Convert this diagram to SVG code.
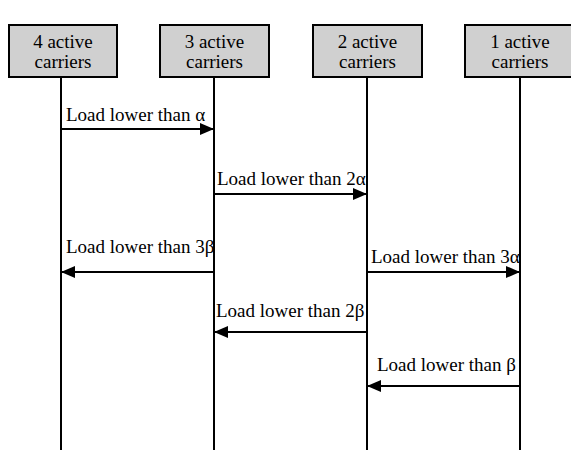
<svg xmlns="http://www.w3.org/2000/svg" width="571" height="450" viewBox="0 0 571 450">
<style>
.box{fill:#d0d0d0;stroke:#000;stroke-width:2}
.life{stroke:#000;stroke-width:2}
.msg{stroke:#000;stroke-width:2;fill:none;marker-end:url(#ah)}
text{font-family:"Liberation Serif","Times New Roman",serif;font-size:19px;fill:#000}
.c{text-anchor:middle}
</style>
<defs>
<marker id="ah" markerUnits="userSpaceOnUse" markerWidth="16" markerHeight="14" refX="14" refY="7" orient="auto">
<path d="M0,1 L14,7 L0,13 Z" fill="#000"/>
</marker>
</defs>
<g id="n4"><rect class="box" x="9" y="25" width="108" height="52"/><text class="c" x="63" y="48">4 active</text><text class="c" x="63" y="68">carriers</text></g>
<g id="n3"><rect class="box" x="160" y="25" width="109" height="52"/><text class="c" x="214.5" y="48">3 active</text><text class="c" x="214.5" y="68">carriers</text></g>
<g id="n2"><rect class="box" x="313" y="25" width="109" height="52"/><text class="c" x="367.5" y="48">2 active</text><text class="c" x="367.5" y="68">carriers</text></g>
<g id="n1"><rect class="box" x="465" y="25" width="110" height="52"/><text class="c" x="520" y="48">1 active</text><text class="c" x="520" y="68">carriers</text></g>
<g id="connectors">
<line class="life" x1="61" y1="77" x2="61" y2="450"/>
<line class="life" x1="214" y1="77" x2="214" y2="450"/>
<line class="life" x1="367" y1="77" x2="367" y2="450"/>
<line class="life" x1="520" y1="77" x2="520" y2="450"/>
<line class="msg" x1="61" y1="129" x2="214" y2="129"/>
<line class="msg" x1="214" y1="194" x2="367" y2="194"/>
<line class="msg" x1="214" y1="272" x2="61" y2="272"/>
<line class="msg" x1="367" y1="272" x2="520" y2="272"/>
<line class="msg" x1="367" y1="332" x2="214" y2="332"/>
<line class="msg" x1="520" y1="386" x2="367" y2="386"/>
<text x="66" y="121">Load lower than α</text>
<text x="217" y="185">Load lower than 2α</text>
<text x="66" y="253">Load lower than 3β</text>
<text x="371" y="263">Load lower than 3α</text>
<text x="216" y="317">Load lower than 2β</text>
<text x="377" y="371">Load lower than β</text>
</g>
</svg>
